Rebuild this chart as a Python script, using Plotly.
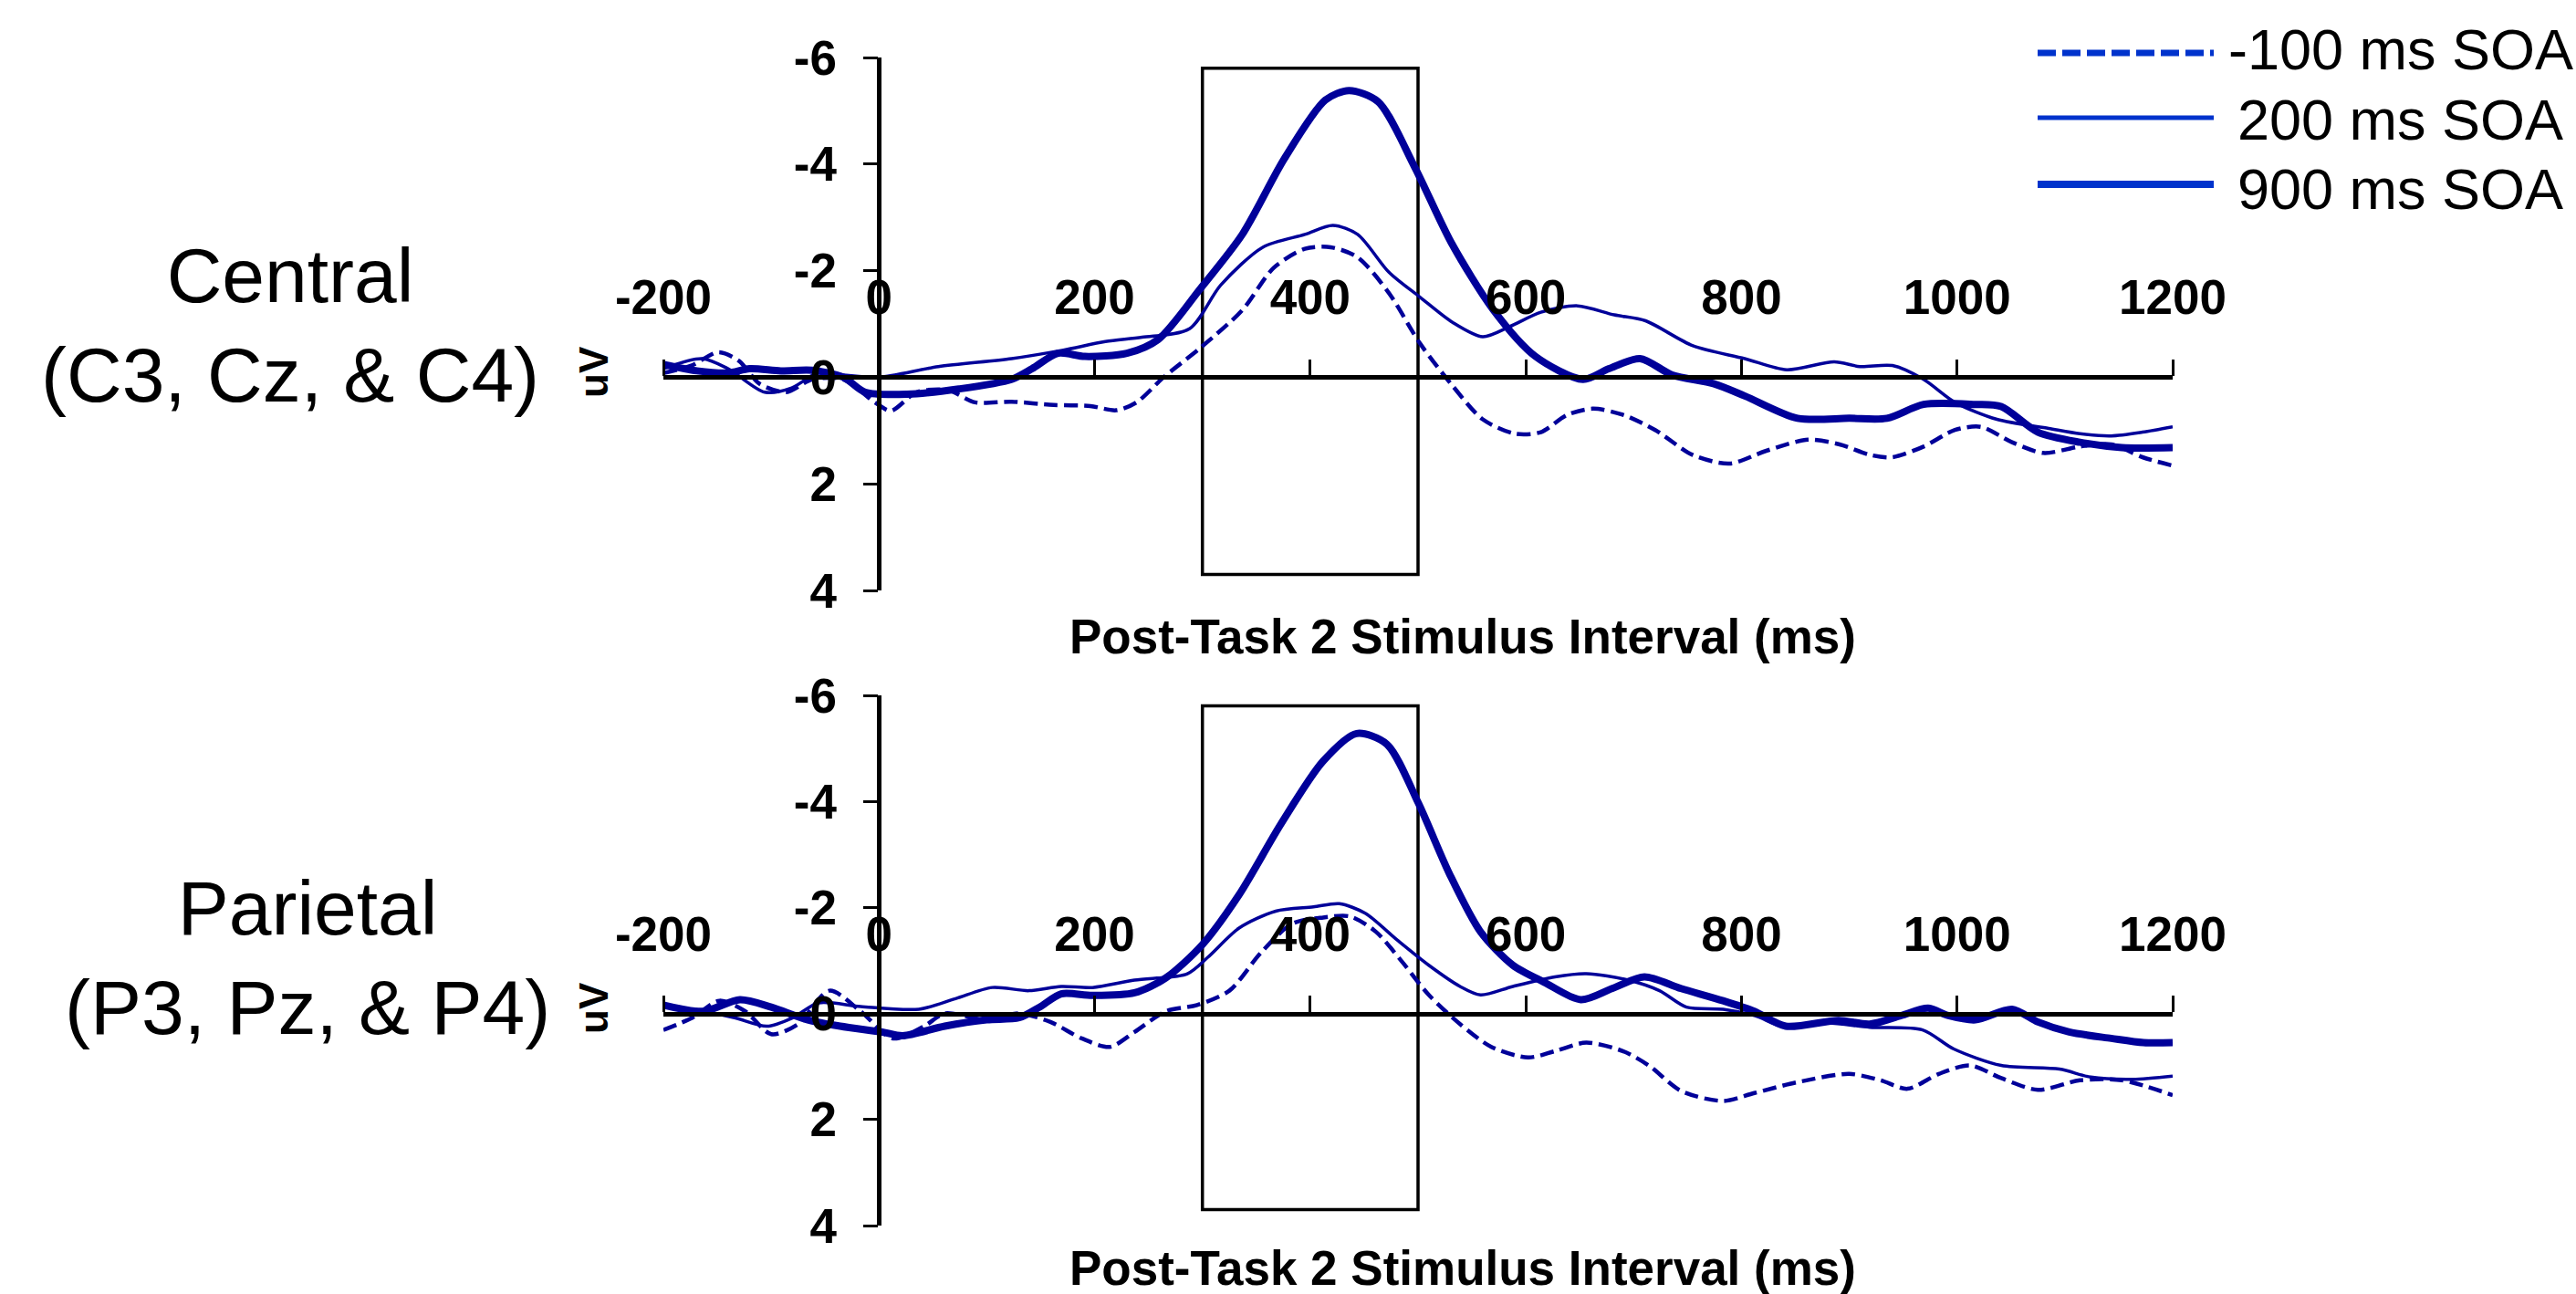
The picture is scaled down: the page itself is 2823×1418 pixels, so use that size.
import plotly.graph_objects as go

# ---------------- data (ms, microvolts) ----------------
central_m100 = [(-200,-0.08),(-174,-0.22),(-149,-0.47),(-130,-0.31),(-111,0.12),(-86,0.28),(-62,0.04),(-33,0.04),
                (-4,0.47),(11,0.63),(35,0.28),(64,0.24),(89,0.47),(123,0.46),(162,0.52),(196,0.54),(220,0.62),
                (239,0.47),(264,0.0),(298,-0.55),(337,-1.26),(366,-2.05),(395,-2.41),(419,-2.44),(444,-2.25),
                (473,-1.58),(502,-0.63),(532,0.16),(560,0.79),(590,1.06),(614,1.03),(638,0.71),(662,0.59),
                (691,0.71),(720,0.99),(755,1.46),(789,1.62),(823,1.38),(862,1.17),(891,1.26),(920,1.46),
                (940,1.5),(969,1.3),(998,0.99),(1022,0.93),(1051,1.22),(1080,1.42),(1114,1.3),(1143,1.26),
                (1172,1.5),(1200,1.66)]
central_200 = [(-200,-0.16),(-164,-0.35),(-140,-0.16),(-106,0.28),(-81,0.2),(-57,-0.08),(-33,-0.04),(0,0.0),
               (55,-0.2),(123,-0.35),(171,-0.51),(210,-0.67),(244,-0.75),(288,-0.91),(317,-1.73),(356,-2.44),
               (395,-2.68),(421,-2.85),(444,-2.68),(473,-1.97),(502,-1.5),(532,-1.03),(560,-0.76),(585,-0.95),
               (614,-1.22),(648,-1.34),(682,-1.17),(711,-1.06),(755,-0.59),(803,-0.35),(842,-0.14),(886,-0.29),
               (910,-0.2),(940,-0.22),(969,0.04),(998,0.47),(1037,0.79),(1085,0.96),(1114,1.06),(1143,1.1),
               (1172,1.03),(1200,0.93)]
central_900 = [(-200,-0.24),(-169,-0.12),(-140,-0.08),(-120,-0.16),(-91,-0.12),(-62,-0.13),(-33,0.0),(-13,0.28),
               (26,0.32),(74,0.22),(123,0.04),(142,-0.16),(166,-0.45),(191,-0.39),(230,-0.45),(259,-0.71),
               (298,-1.66),(337,-2.68),(376,-4.1),(414,-5.2),(436,-5.38),(463,-5.17),(497,-3.94),(531,-2.52),
               (570,-1.26),(609,-0.39),(653,0.04),(677,-0.16),(706,-0.35),(736,-0.04),(774,0.12),(803,0.35),
               (852,0.77),(900,0.77),(935,0.77),(969,0.51),(1017,0.51),(1041,0.55),(1075,1.03),(1114,1.22),
               (1153,1.32),(1200,1.32)]

parietal_m100 = [(-200,0.31),(-173,0.08),(-148,-0.24),(-124,-0.04),(-100,0.39),(-75,0.2),(-46,-0.43),(-17,-0.04),
                 (13,0.47),(42,0.24),(61,0.0),(100,0.12),(130,0.0),(159,0.16),(188,0.47),(214,0.63),(237,0.35),
                 (266,-0.04),(295,-0.16),(325,-0.43),(354,-1.14),(383,-1.69),(412,-1.81),(437,-1.83),(461,-1.54),
                 (485,-0.98),(510,-0.35),(539,0.2),(568,0.63),(602,0.83),(627,0.71),(656,0.55),(690,0.71),
                 (714,0.98),(744,1.46),(783,1.65),(812,1.5),(851,1.3),(900,1.14),(929,1.26),(954,1.42),
                 (983,1.14),(1012,0.98),(1041,1.22),(1075,1.44),(1114,1.26),(1153,1.26),(1200,1.54)]
parietal_200 = [(-200,-0.12),(-163,-0.04),(-134,0.08),(-104,0.24),(-80,0.08),(-56,-0.2),(-17,-0.13),(37,-0.08),
                (71,-0.28),(105,-0.49),(139,-0.43),(169,-0.51),(198,-0.49),(237,-0.63),(286,-0.75),(305,-1.06),
                (334,-1.61),(368,-1.93),(403,-2.01),(427,-2.07),(451,-1.89),(481,-1.38),(510,-0.91),(539,-0.51),
                (558,-0.35),(588,-0.51),(627,-0.69),(656,-0.75),(695,-0.63),(724,-0.43),(749,-0.12),(783,-0.08),
                (812,0.04),(841,0.26),(880,0.18),(919,0.26),(968,0.31),(997,0.67),(1041,0.98),(1095,1.05),
                (1124,1.2),(1163,1.24),(1200,1.18)]
parietal_900 = [(-200,-0.16),(-163,-0.04),(-129,-0.26),(-100,-0.12),(-66,0.12),(-36,0.24),(3,0.35),(22,0.42),
                (61,0.24),(100,0.12),(130,0.08),(149,-0.12),(169,-0.37),(198,-0.34),(237,-0.39),(266,-0.67),
                (300,-1.3),(334,-2.24),(373,-3.58),(412,-4.76),(443,-5.28),(471,-5.08),(500,-3.98),(529,-2.64),
                (558,-1.54),(588,-0.91),(617,-0.59),(651,-0.26),(680,-0.47),(710,-0.69),(744,-0.47),(783,-0.24),
                (812,-0.04),(841,0.24),(890,0.13),(919,0.2),(948,0.04),(973,-0.1),(992,0.04),(1017,0.12),
                (1051,-0.08),(1075,0.16),(1104,0.35),(1143,0.47),(1173,0.55),(1200,0.55)]

series_names = ["-100 ms SOA", "200 ms SOA", "900 ms SOA"]
panel_titles = ["Central<br>(C3, Cz, & C4)", "Parietal<br>(P3, Pz, & P4)"]
x_title = "Post-Task 2 Stimulus Interval (ms)"
y_title = "uV"
x_tick_vals = [-200, 0, 200, 400, 600, 800, 1000, 1200]
x_tick_text = ["-200", "0", "200", "400", "600", "800", "1000", "1200"]
y_tick_vals = [-6, -4, -2, 0, 2, 4]
y_tick_text = ["-6", "-4", "-2", "0", "2", "4"]
window_ms = [300, 500]
window_uv = [-5.8, 3.7]
x_range = [-200, 1200]
y_range = [4, -6]

# ---------------- styling ----------------
W, H = 2823, 1418
FONT = "Liberation Sans, Arial, sans-serif"
CURVE = "#000099"
LEG = "#0033CC"
styles = [dict(width=4.5, dash="15px,7px"), dict(width=3.5, dash="solid"), dict(width=8, dash="solid")]
leg_widths = [7, 5, 8]

def px(v):
    return v / W

def py(v):
    return 1 - v / H

x_dom = [px(727), px(2381)]
y_doms = [[py(647), py(63)], [py(1343), py(762)]]

fig = go.Figure()
panels = [(central_m100, central_200, central_900), (parietal_m100, parietal_200, parietal_900)]
for p, data in enumerate(panels):
    xa = "x" if p == 0 else "x2"
    ya = "y" if p == 0 else "y2"
    for s, ser in enumerate(data):
        fig.add_trace(go.Scatter(
            x=[t for t, _ in ser], y=[v for _, v in ser], mode="lines",
            name=series_names[s], showlegend=False,
            line=dict(color=CURVE, width=styles[s]["width"], dash=styles[s]["dash"],
                      shape="spline", smoothing=0.8),
            xaxis=xa, yaxis=ya))

layout = dict(width=W, height=H, margin=dict(l=0, r=0, t=0, b=0, pad=0, autoexpand=False),
              paper_bgcolor="white", plot_bgcolor="white", showlegend=False,
              font=dict(family=FONT, color="black"))

tick_font = dict(family=FONT, size=53, color="black", weight="bold")
shapes = []
annotations = []
for p in range(2):
    sfx = "" if p == 0 else "2"
    ovl = "3" if p == 0 else "4"
    dom = y_doms[p]
    zero_pos = dom[0] + (y_range[0] - 0) / (y_range[0] - y_range[1]) * (dom[1] - dom[0])
    yaxis_pos = x_dom[0] + (0 - x_range[0]) / (x_range[1] - x_range[0]) * (x_dom[1] - x_dom[0])
    layout["xaxis" + sfx] = dict(
        domain=x_dom, range=x_range, anchor="free", position=zero_pos, side="top",
        showgrid=False, zeroline=False, showline=True, linecolor="black", linewidth=4.5,
        ticks="outside", ticklen=18, tickwidth=3, tickcolor="black",
        tickvals=x_tick_vals, ticktext=x_tick_text, tickfont=tick_font,
        ticklabelstandoff=28, automargin=False)
    layout["xaxis" + ovl] = dict(
        domain=x_dom, range=x_range, anchor="free", position=zero_pos, side="bottom",
        overlaying="x" + sfx, showgrid=False, zeroline=False, showline=False,
        ticks="outside", ticklen=18, tickwidth=3, tickcolor="black",
        tickvals=x_tick_vals, showticklabels=False, automargin=False)
    layout["yaxis" + sfx] = dict(
        domain=dom, range=y_range, anchor="free", position=yaxis_pos, side="left",
        showgrid=False, zeroline=False, showline=True, linecolor="black", linewidth=4.5,
        ticks="outside", ticklen=16, tickwidth=3, tickcolor="black",
        tickvals=y_tick_vals, ticktext=y_tick_text, tickfont=tick_font,
        ticklabelstandoff=18, automargin=False)
    # analysis window box
    shapes.append(dict(type="rect", xref="x" + sfx, yref="y" + sfx,
                       x0=window_ms[0], x1=window_ms[1], y0=window_uv[0], y1=window_uv[1],
                       line=dict(color="black", width=3.5), layer="below"))
    # x title
    title_y = [697, 1389][p]
    annotations.append(dict(text=x_title, x=px(1603), y=py(title_y), xref="paper", yref="paper",
                            showarrow=False, xanchor="center", yanchor="middle",
                            font=dict(family=FONT, size=53, color="black", weight="bold")))
    # y title
    uv_y = [408, 1105][p]
    annotations.append(dict(text=y_title, x=px(650), y=py(uv_y), xref="paper", yref="paper",
                            showarrow=False, textangle=-90, xanchor="center", yanchor="middle",
                            font=dict(family=FONT, size=44, color="black", weight="bold")))
    # region label
    lab_x = [318, 337][p]
    lab_y = [356, 1049][p]
    annotations.append(dict(text=panel_titles[p], x=px(lab_x), y=py(lab_y), xref="paper", yref="paper",
                            showarrow=False, xanchor="center", yanchor="middle",
                            font=dict(family=FONT, size=84, color="black")))

# legend (drawn manually to reproduce long sample lines)
leg_line_y = [58, 129, 202]
leg_text_y = [54, 131, 207]
leg_text_x = [2440, 2450, 2450]
for s in range(3):
    shapes.append(dict(type="line", xref="paper", yref="paper",
                       x0=px(2233), x1=px(2426), y0=py(leg_line_y[s]), y1=py(leg_line_y[s]),
                       line=dict(color=LEG, width=leg_widths[s],
                                 dash="20px,7px" if s == 0 else "solid")))
    annotations.append(dict(text=series_names[s], x=px(leg_text_x[s]), y=py(leg_text_y[s]),
                            xref="paper", yref="paper", showarrow=False,
                            xanchor="left", yanchor="middle",
                            font=dict(family=FONT, size=63, color="black")))

layout["shapes"] = shapes
layout["annotations"] = annotations
fig.update_layout(**layout)
fig.write_html("out.html", config={"displayModeBar": False},
               post_script="document.body.style.margin='0px';document.body.style.overflow='hidden';")
